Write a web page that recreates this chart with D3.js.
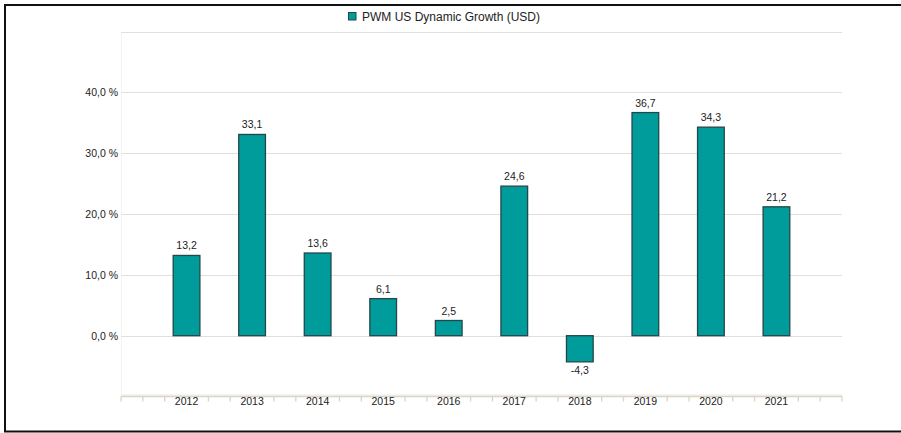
<!DOCTYPE html>
<html>
<head>
<meta charset="utf-8">
<script src="https://cdn.jsdelivr.net/npm/d3@7/dist/d3.min.js"></script>
<style>
  html, body { margin: 0; padding: 0; background: #fff; }
  svg { display: block; }
  text { font-family: "Liberation Sans", Arial, sans-serif; }
</style>
</head>
<body>
<svg id="chart" width="901" height="433"></svg>
<script>
const categories = ["2012", "2013", "2014", "2015", "2016", "2017", "2018", "2019", "2020", "2021"];
const values = [13.2, 33.1, 13.6, 6.1, 2.5, 24.6, -4.3, 36.7, 34.3, 21.2];
const seriesName = "PWM US Dynamic Growth (USD)";
const yTicks = [0, 10, 20, 30, 40];
const gridValues = [-10, 0, 10, 20, 30, 40, 50];

const svg = d3.select("#chart");
const fmt = v => v.toFixed(1).replace(".", ",");

// frame
svg.append("line").attr("x1", 4).attr("x2", 901).attr("y1", 5).attr("y2", 5)
  .attr("stroke", "#111").attr("stroke-width", 2);
svg.append("line").attr("x1", 5).attr("x2", 5).attr("y1", 4).attr("y2", 432)
  .attr("stroke", "#111").attr("stroke-width", 2);
svg.append("line").attr("x1", 4).attr("x2", 901).attr("y1", 431.5).attr("y2", 431.5)
  .attr("stroke", "#111").attr("stroke-width", 2);

const x = d3.scaleLinear().domain([0, categories.length + 1]).range([121, 842]);
const y = d3.scaleLinear().domain([-10, 50]).range([396.5, 31.7]);

// faint plot-left line
svg.append("line").attr("x1", 121.5).attr("x2", 121.5).attr("y1", y(50)).attr("y2", y(-10))
  .attr("stroke", "#f3f3f1").attr("stroke-width", 1);

// gridlines
svg.append("g").selectAll("line").data(gridValues.filter(v => v !== -10)).join("line")
  .attr("x1", 121).attr("x2", 842)
  .attr("y1", d => Math.round(y(d)) + 0.5).attr("y2", d => Math.round(y(d)) + 0.5)
  .attr("stroke", "#e2dfd8").attr("stroke-width", 1.2);

// y tick labels
svg.append("g").selectAll("text").data(yTicks).join("text")
  .attr("x", 118).attr("y", d => y(d) + 3.8)
  .attr("text-anchor", "end").attr("font-size", "10.5px").attr("fill", "#222")
  .text(d => fmt(d) + " %");

// bottom axis (double line)
const yAxis = y(-10);
svg.append("line").attr("x1", 121).attr("x2", 842).attr("y1", yAxis - 1.5).attr("y2", yAxis - 1.5)
  .attr("stroke", "#ece9e2").attr("stroke-width", 1.2);
svg.append("line").attr("x1", 121).attr("x2", 842).attr("y1", yAxis).attr("y2", yAxis)
  .attr("stroke", "#d8d4c8").attr("stroke-width", 1.5);

// minor ticks
const tickPos = d3.range(0, (categories.length + 1) * 3 + 1)
  .filter(j => !(j % 3 === 0 && j / 3 >= 1 && j / 3 <= categories.length))
  .map(j => j / 3);
svg.append("g").selectAll("line").data(tickPos).join("line")
  .attr("x1", d => x(d)).attr("x2", d => x(d))
  .attr("y1", yAxis).attr("y2", yAxis + 5)
  .attr("stroke", "#d8d4c8").attr("stroke-width", 1.3);

// x labels
svg.append("g").selectAll("text").data(categories).join("text")
  .attr("x", (d, i) => x(i + 1)).attr("y", 405)
  .attr("text-anchor", "middle").attr("font-size", "10.5px").attr("fill", "#222")
  .text(d => d);

// bars
const bw = 26.7;
svg.append("g").selectAll("rect").data(values).join("rect")
  .attr("x", (d, i) => x(i + 1) - bw / 2)
  .attr("y", d => y(Math.max(0, d)))
  .attr("width", bw)
  .attr("height", d => Math.abs(y(d) - y(0)))
  .attr("fill", "#009b9b")
  .attr("stroke", "#24474a").attr("stroke-width", 1.3);

// value labels
svg.append("g").selectAll("text").data(values).join("text")
  .attr("x", (d, i) => x(i + 1))
  .attr("y", d => d >= 0 ? y(d) - 6 : y(d) + 12.5)
  .attr("text-anchor", "middle").attr("font-size", "10.5px").attr("fill", "#222")
  .text(d => fmt(d));

// legend
svg.append("rect").attr("x", 348.5).attr("y", 12.5).attr("width", 7.5).attr("height", 7.5)
  .attr("fill", "#009b9b").attr("stroke", "#24474a").attr("stroke-width", 1);
svg.append("text").attr("x", 362).attr("y", 20.5)
  .attr("font-size", "12px").attr("fill", "#222").text(seriesName);
</script>
</body>
</html>
